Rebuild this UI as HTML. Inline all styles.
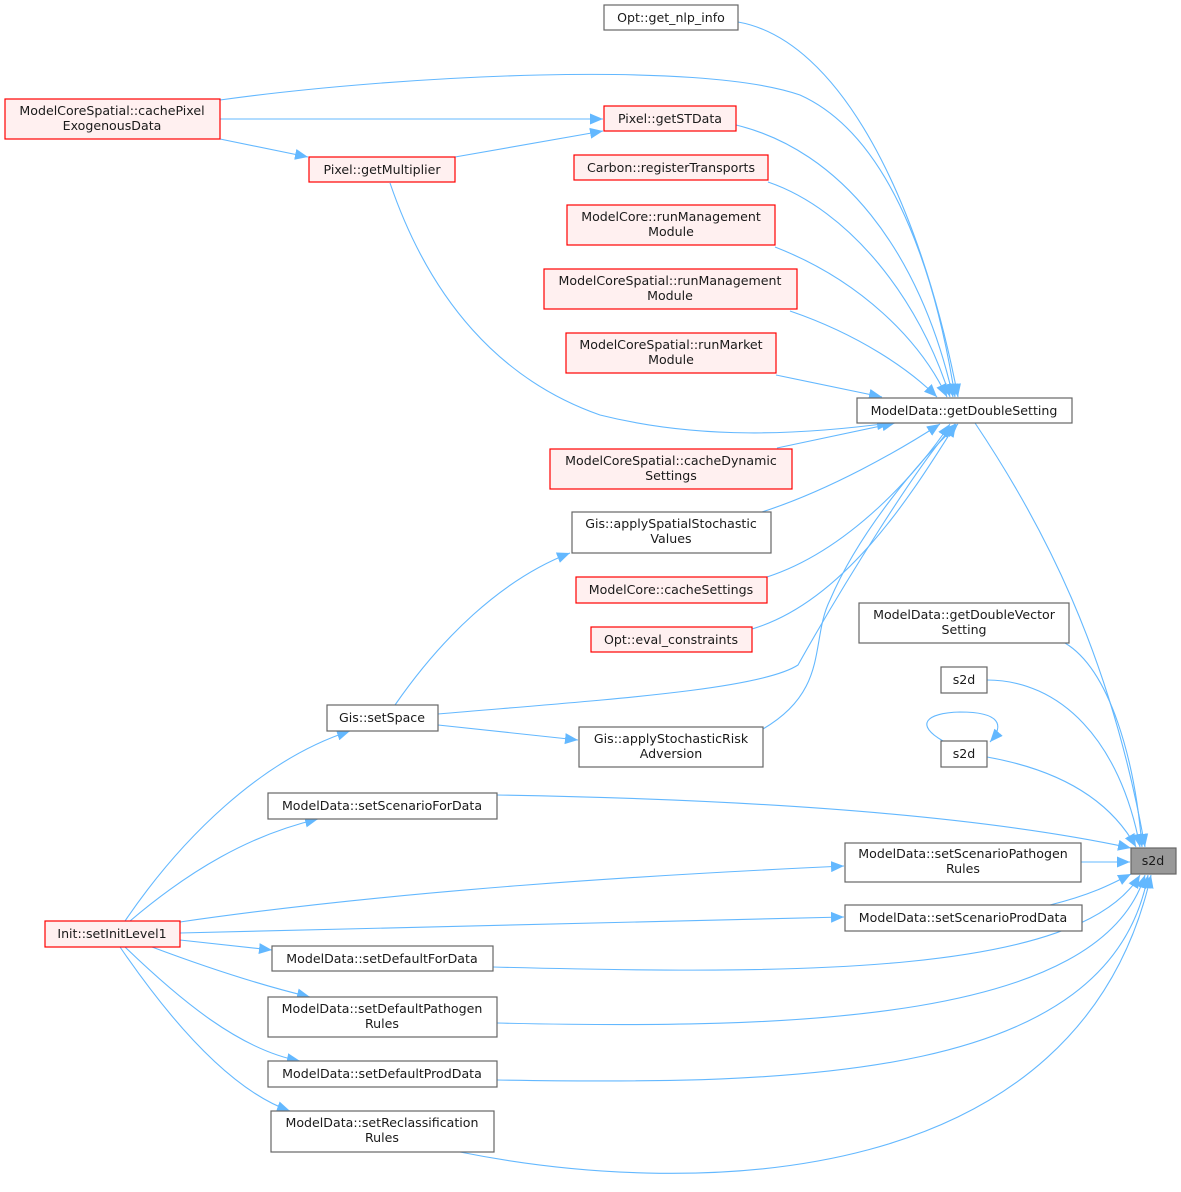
<!DOCTYPE html>
<html><head><meta charset="utf-8"><style>
html,body{margin:0;padding:0;background:#fff;}
svg{display:block}
text{font-family:"DejaVu Sans","Liberation Sans",sans-serif;font-size:12.6px;fill:#1a1a1a;text-anchor:middle}
.e{fill:none;stroke:#63b8ff;stroke-width:1.1}
.r{fill:#fff0f0;stroke:#ff0000;stroke-width:1.2}
.g{fill:#fff;stroke:#666;stroke-width:1.2}
.m{fill:#999;stroke:#666;stroke-width:1.2}
</style></head><body>
<svg width="1181" height="1192" viewBox="0 0 1181 1192" xmlns="http://www.w3.org/2000/svg">
<defs>
<marker id="a" markerUnits="userSpaceOnUse" markerWidth="14" markerHeight="12" refX="13" refY="6" orient="auto">
<path d="M0,0.5 L13,6 L0,11.5 Z" fill="#63b8ff"/>
</marker>
</defs>
<g class="e" marker-end="url(#a)">
<path d="M738,22 C840,40 920,200 958,397"/>
<path d="M220,100 C400,75 700,60 800,95 C900,140 940,300 955,397"/>
<path d="M220,119 L603,119"/>
<path d="M220,139 L308,157"/>
<path d="M455,157 L603,131"/>
<path d="M736,125 C840,150 920,250 953,397"/>
<path d="M390,183 C430,300 500,380 600,415 C700,440 800,435 890,423"/>
<path d="M768,182 C850,210 920,300 950,397"/>
<path d="M775,247 C860,280 920,340 947,397"/>
<path d="M790,311 C860,335 910,370 937,397"/>
<path d="M776,375 L882,397"/>
<path d="M777,448 L895,423"/>
<path d="M762,512 C830,490 900,450 940,424"/>
<path d="M767,577 C850,550 920,470 950,424"/>
<path d="M752,629 C850,600 920,480 956,424"/>
<path d="M438,714 C600,700 760,690 798,665 C840,590 920,460 955,424"/>
<path d="M763,729 C830,690 810,640 830,600 C860,530 920,460 958,424"/>
<path d="M395,705 C440,640 500,580 570,553"/>
<path d="M438,725 L578,740"/>
<path d="M125,921 C180,840 260,760 350,731"/>
<path d="M130,921 C190,870 250,835 318,819"/>
<path d="M180,922 C400,890 650,875 844,866"/>
<path d="M180,933 L844,917"/>
<path d="M180,940 L272,950"/>
<path d="M152,947 C200,965 260,985 310,997"/>
<path d="M125,947 C180,1000 240,1050 300,1061"/>
<path d="M120,947 C170,1020 230,1090 290,1111"/>
<path d="M975,423 C1040,520 1110,650 1145,847"/>
<path d="M1065,643 C1110,670 1135,760 1142,847"/>
<path d="M987,680 C1060,680 1120,740 1140,847"/>
<path d="M987,757 C1060,770 1110,800 1136,847"/>
<path d="M497,795 C800,800 1000,820 1131,848"/>
<path d="M1081,862 L1130,862"/>
<path d="M1050,905 C1090,895 1110,885 1131,874"/>
<path d="M493,967 C800,975 1080,975 1140,875"/>
<path d="M497,1023 C800,1030 1100,1020 1145,875"/>
<path d="M497,1080 C800,1085 1110,1080 1148,875"/>
<path d="M460,1152 C700,1200 1080,1190 1151,875"/>
<path d="M943,741 C915,725 925,713 960,712 C1000,712 1005,725 990,742"/>
</g>
<rect class="g" x="604" y="5" width="134" height="25"/><text x="671" y="22">Opt::get_nlp_info</text>
<rect class="r" x="5" y="99" width="215" height="40"/><text x="112" y="115">ModelCoreSpatial::cachePixel</text><text x="112" y="130">ExogenousData</text>
<rect class="r" x="604" y="106" width="132" height="25"/><text x="670" y="123">Pixel::getSTData</text>
<rect class="r" x="309" y="157" width="146" height="25"/><text x="382" y="174">Pixel::getMultiplier</text>
<rect class="r" x="574" y="155" width="194" height="25"/><text x="671" y="172">Carbon::registerTransports</text>
<rect class="r" x="567" y="205" width="208" height="40"/><text x="671" y="221">ModelCore::runManagement</text><text x="671" y="236">Module</text>
<rect class="r" x="544" y="269" width="253" height="40"/><text x="670" y="285">ModelCoreSpatial::runManagement</text><text x="670" y="300">Module</text>
<rect class="r" x="566" y="333" width="210" height="40"/><text x="671" y="349">ModelCoreSpatial::runMarket</text><text x="671" y="364">Module</text>
<rect class="g" x="857" y="398" width="215" height="25"/><text x="964" y="415">ModelData::getDoubleSetting</text>
<rect class="r" x="550" y="449" width="242" height="40"/><text x="671" y="465">ModelCoreSpatial::cacheDynamic</text><text x="671" y="480">Settings</text>
<rect class="g" x="572" y="512" width="199" height="41"/><text x="671" y="528">Gis::applySpatialStochastic</text><text x="671" y="543">Values</text>
<rect class="r" x="576" y="577" width="191" height="26"/><text x="671" y="594">ModelCore::cacheSettings</text>
<rect class="r" x="591" y="627" width="161" height="25"/><text x="671" y="644">Opt::eval_constraints</text>
<rect class="g" x="859" y="603" width="210" height="40"/><text x="964" y="619">ModelData::getDoubleVector</text><text x="964" y="634">Setting</text>
<rect class="g" x="941" y="667" width="46" height="26"/><text x="964" y="684">s2d</text>
<rect class="g" x="941" y="741" width="46" height="26"/><text x="964" y="758">s2d</text>
<rect class="g" x="327" y="705" width="111" height="26"/><text x="382" y="722">Gis::setSpace</text>
<rect class="g" x="579" y="727" width="184" height="40"/><text x="671" y="743">Gis::applyStochasticRisk</text><text x="671" y="758">Adversion</text>
<rect class="g" x="268" y="793" width="229" height="26"/><text x="382" y="810">ModelData::setScenarioForData</text>
<rect class="m" x="1131" y="848" width="45" height="26"/><text x="1153" y="865">s2d</text>
<rect class="g" x="845" y="843" width="236" height="39"/><text x="963" y="858">ModelData::setScenarioPathogen</text><text x="963" y="873">Rules</text>
<rect class="g" x="845" y="905" width="237" height="26"/><text x="963" y="922">ModelData::setScenarioProdData</text>
<rect class="r" x="45" y="921" width="135" height="26"/><text x="112" y="938">Init::setInitLevel1</text>
<rect class="g" x="272" y="946" width="221" height="25"/><text x="382" y="963">ModelData::setDefaultForData</text>
<rect class="g" x="268" y="997" width="229" height="40"/><text x="382" y="1013">ModelData::setDefaultPathogen</text><text x="382" y="1028">Rules</text>
<rect class="g" x="268" y="1061" width="229" height="26"/><text x="382" y="1078">ModelData::setDefaultProdData</text>
<rect class="g" x="271" y="1111" width="223" height="41"/><text x="382" y="1127">ModelData::setReclassification</text><text x="382" y="1142">Rules</text>
</svg>
</body></html>
